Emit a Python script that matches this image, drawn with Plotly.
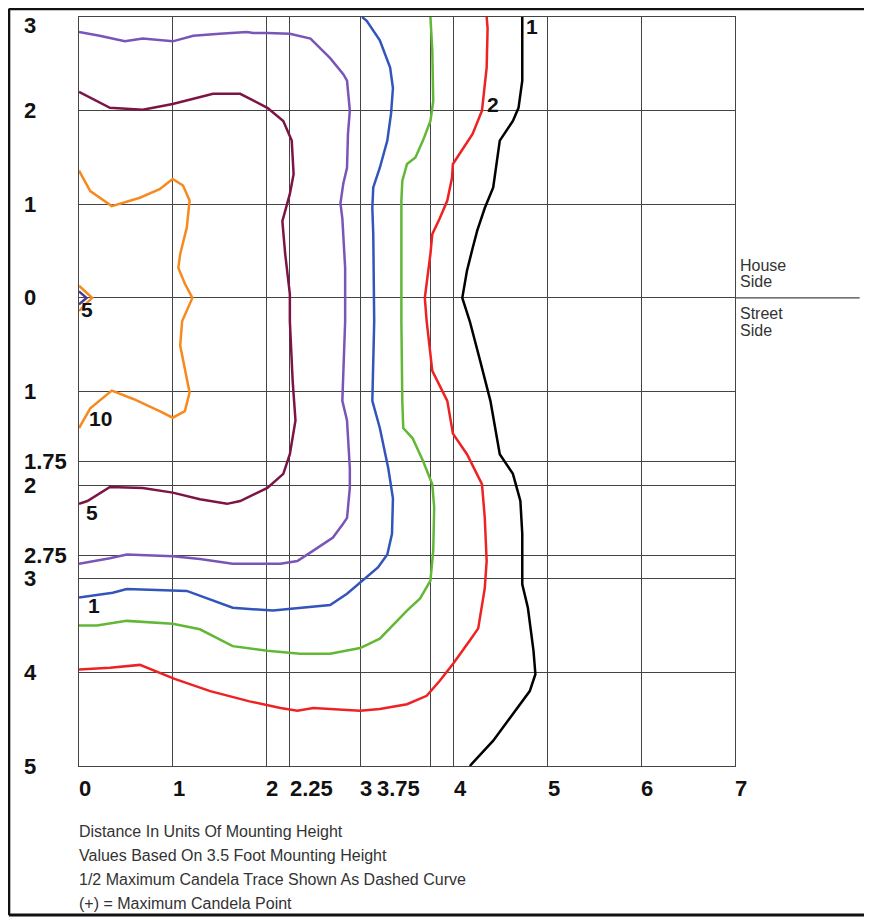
import plotly.graph_objects as go

# ---- data (units of mounting height; + = house side, - = street side) ----
black_x = [4.73, 4.73, 4.69, 4.63, 4.49, 4.47, 4.42, 4.33, 4.25, 4.20, 4.14, 4.09, 4.17, 4.28, 4.39, 4.49, 4.63, 4.71, 4.73, 4.73, 4.79, 4.85, 4.87, 4.81, 4.63, 4.42, 4.17]
black_y = [3.0, 2.32, 2.03, 1.89, 1.68, 1.54, 1.18, 0.96, 0.72, 0.53, 0.29, 0.0, -0.25, -0.67, -1.10, -1.67, -1.88, -2.17, -2.52, -3.06, -3.31, -3.77, -4.02, -4.20, -4.44, -4.73, -5.0]

red_x = [4.35, 4.36, 4.35, 4.31, 4.30, 4.20, 4.10, 3.99, 3.98, 3.93, 3.85, 3.77, 3.75, 3.71, 3.69, 3.71, 3.77, 3.93, 3.99, 4.14, 4.30, 4.33, 4.35, 4.33, 4.26, 4.17, 3.99, 3.85, 3.71, 3.50, 3.21, 3.00, 2.50, 2.33, 2.15, 1.82, 1.40, 1.02, 0.65, 0.33, 0.0]
red_y = [3.0, 2.88, 2.46, 2.10, 2.00, 1.75, 1.60, 1.43, 1.28, 1.04, 0.85, 0.68, 0.47, 0.15, 0.0, -0.25, -0.78, -1.10, -1.45, -1.67, -1.99, -2.35, -2.81, -3.10, -3.53, -3.66, -3.91, -4.09, -4.25, -4.34, -4.39, -4.41, -4.38, -4.41, -4.38, -4.31, -4.20, -4.07, -3.92, -3.95, -3.97]

green_x = [3.75, 3.77, 3.78, 3.75, 3.67, 3.59, 3.50, 3.45, 3.44, 3.44, 3.45, 3.46, 3.56, 3.67, 3.77, 3.79, 3.78, 3.75, 3.64, 3.50, 3.21, 3.00, 2.68, 2.36, 2.01, 1.64, 1.29, 1.00, 0.51, 0.19, 0.0]
green_y = [3.0, 2.64, 2.10, 1.89, 1.68, 1.50, 1.43, 1.25, 1.04, -0.25, -1.10, -1.39, -1.50, -1.74, -1.99, -2.24, -2.70, -3.02, -3.21, -3.34, -3.64, -3.74, -3.80, -3.80, -3.77, -3.72, -3.54, -3.48, -3.45, -3.50, -3.50]

blue_x = [3.02, 3.07, 3.21, 3.32, 3.35, 3.33, 3.29, 3.21, 3.14, 3.13, 3.14, 3.15, 3.13, 3.21, 3.30, 3.35, 3.34, 3.29, 3.19, 3.00, 2.86, 2.68, 2.36, 2.07, 1.64, 1.29, 1.15, 0.51, 0.36, 0.0]
blue_y = [3.0, 2.96, 2.75, 2.46, 2.24, 1.97, 1.68, 1.39, 1.18, 0.96, 0.68, -0.25, -1.10, -1.39, -1.82, -2.14, -2.52, -2.74, -2.88, -3.04, -3.16, -3.28, -3.31, -3.34, -3.31, -3.18, -3.13, -3.11, -3.15, -3.20]

purple_x = [0.0, 0.22, 0.49, 0.68, 1.00, 1.22, 1.50, 1.79, 1.86, 2.01, 2.25, 2.47, 2.68, 2.82, 2.86, 2.89, 2.87, 2.86, 2.82, 2.79, 2.81, 2.82, 2.84, 2.84, 2.81, 2.86, 2.89, 2.89, 2.86, 2.82, 2.71, 2.50, 2.33, 2.15, 2.01, 1.64, 1.29, 1.00, 0.51, 0.33, 0.0]
purple_y = [2.84, 2.80, 2.74, 2.77, 2.74, 2.80, 2.82, 2.84, 2.83, 2.83, 2.82, 2.77, 2.56, 2.39, 2.32, 2.00, 1.75, 1.39, 1.22, 1.01, 0.85, 0.68, 0.32, -0.25, -1.10, -1.31, -1.82, -2.03, -2.35, -2.41, -2.56, -2.70, -2.81, -2.84, -2.84, -2.84, -2.79, -2.76, -2.74, -2.78, -2.84]

maroon_x = [0.0, 0.33, 0.68, 1.00, 1.43, 1.72, 2.01, 2.18, 2.27, 2.29, 2.25, 2.20, 2.17, 2.20, 2.25, 2.25, 2.28, 2.31, 2.25, 2.18, 2.01, 1.72, 1.58, 1.29, 1.00, 0.68, 0.33, 0.09, 0.0]
maroon_y = [2.20, 2.03, 2.01, 2.07, 2.18, 2.18, 2.03, 1.89, 1.68, 1.32, 1.11, 0.93, 0.82, 0.47, 0.04, -0.25, -0.89, -1.31, -1.67, -1.88, -2.03, -2.17, -2.20, -2.15, -2.08, -2.03, -2.02, -2.17, -2.20]

orange_x = [0.0, 0.12, 0.35, 0.65, 0.86, 1.00, 1.11, 1.18, 1.15, 1.08, 1.06, 1.13, 1.21, 1.10, 1.08, 1.13, 1.15, 1.18, 1.13, 1.00, 0.86, 0.58, 0.35, 0.12, 0.0]
orange_y = [1.36, 1.14, 0.98, 1.07, 1.16, 1.27, 1.20, 1.04, 0.75, 0.47, 0.32, 0.15, 0.0, -0.25, -0.51, -0.78, -0.89, -1.01, -1.21, -1.28, -1.21, -1.08, -0.99, -1.18, -1.39]

orange_small_x = [0.0, 0.14, 0.0]
orange_small_y = [0.13, 0.0, -0.14]
navy_small_x = [0.0, 0.08, 0.0]
navy_small_y = [0.07, 0.0, -0.07]

curve_colors = ["#000000", "#ee2222", "#62b836", "#3355bb", "#7a55b8", "#7d1446", "#f68a1f", "#f68a1f", "#4a3a90"]
curves = [(black_x, black_y), (red_x, red_y), (green_x, green_y), (blue_x, blue_y),
          (purple_x, purple_y), (maroon_x, maroon_y), (orange_x, orange_y),
          (orange_small_x, orange_small_y), (navy_small_x, navy_small_y)]

# contour labels
label_text = ["1", "2", "2", "5", "10", "1", "5"]
label_x = [4.75, 4.33, -0.01, 0.055, 0.08, 0.07, 0.0]
label_y = [2.90, 2.07, 2.735, -2.29, -1.29, -3.29, -0.12]

x_ticks = [0, 1, 2, 2.25, 3, 3.75, 4, 5, 6, 7]
x_tick_text = ["0", "1", "2", "2.25", "3", "3.75", "4", "5", "6", "7"]
y_ticks = [3, 2, 1, 0, -1, -1.75, -2, -2.75, -3, -4, -5]
y_tick_text = ["3", "2", "1", "0", "1", "1.75", "2", "2.75", "3", "4", "5"]

notes = ["Distance In Units Of Mounting Height",
         "Values Based On 3.5 Foot Mounting Height",
         "1/2 Maximum Candela Trace Shown As Dashed Curve",
         "(+) = Maximum Candela Point"]
side_text = ["House", "Side", "Street", "Side"]

FONT = "Liberation Sans, Arial, sans-serif"

fig = go.Figure()
for (cx, cy), col in zip(curves, curve_colors):
    fig.add_trace(go.Scatter(x=cx, y=cy, mode="lines",
                             line=dict(color=col, width=2.5),
                             hoverinfo="skip", showlegend=False))

annotations = []
for t, lx, ly in zip(label_text, label_x, label_y):
    annotations.append(dict(x=lx, y=ly, xref="x", yref="y", text="<b>%s</b>" % t, showarrow=False,
                            xanchor="left", yanchor="middle",
                            font=dict(family=FONT, size=21, color="#111")))

for v, t in zip(x_ticks, x_tick_text):
    right = (t == "3.75")
    annotations.append(dict(x=v, y=-5, xref="x", yref="y", text="<b>%s</b>" % t,
                            showarrow=False, xanchor="right" if right else "left",
                            xshift=-8 if right else -2, yanchor="middle", yshift=-22,
                            font=dict(family=FONT, size=22, color="#111")))

for v, t in zip(y_ticks, y_tick_text):
    annotations.append(dict(x=-0.087, y=v, xref="paper", yref="y", text="<b>%s</b>" % t,
                            showarrow=False, xanchor="left", yanchor="middle",
                            yshift=-8 if v == 3 else 0,
                            font=dict(family=FONT, size=22, color="#111")))

for i, n in enumerate(notes):
    annotations.append(dict(x=-0.003, y=-5, xref="paper", yref="y", text=n,
                            showarrow=False, xanchor="left", yanchor="middle",
                            yshift=-65 - i * 24.3,
                            font=dict(family=FONT, size=16, color="#333")))

for t, sh in zip(side_text, [32, 16, -16, -33]):
    annotations.append(dict(x=1.005, y=0, xref="paper", yref="y", text=t,
                            showarrow=False, xanchor="left", yanchor="middle", yshift=sh,
                            font=dict(family=FONT, size=16, color="#333")))

shapes = [
    # house/street divider extends beyond the grid
    dict(type="line", xref="paper", yref="y", x0=1.0, x1=1.19, y0=0, y1=0,
         line=dict(color="#444", width=1.3)),
    # outer frame
    dict(type="line", xref="paper", yref="paper", x0=-0.107, x1=-0.107, y0=1.011, y1=-0.199,
         line=dict(color="#111", width=3)),
    dict(type="line", xref="paper", yref="paper", x0=-0.107, x1=1.25, y0=1.011, y1=1.011,
         line=dict(color="#111", width=3)),
    dict(type="line", xref="paper", yref="paper", x0=-0.107, x1=1.25, y0=-0.199, y1=-0.199,
         line=dict(color="#111", width=3)),
]

fig.update_layout(
    width=864, height=911,
    margin=dict(l=71, r=137, t=9, b=153),
    paper_bgcolor="white", plot_bgcolor="white",
    showlegend=False,
    annotations=annotations,
    shapes=shapes,
    xaxis=dict(range=[0, 7], tickvals=x_ticks, showticklabels=False, ticks="",
               showgrid=True, gridcolor="#444", gridwidth=1.2, zeroline=False,
               showline=True, mirror=True, linecolor="#444", linewidth=1.2, fixedrange=True),
    yaxis=dict(range=[-5, 3], tickvals=y_ticks, showticklabels=False, ticks="",
               showgrid=True, gridcolor="#444", gridwidth=1.2, zeroline=False,
               showline=True, mirror=True, linecolor="#444", linewidth=1.2, fixedrange=True),
)

fig.write_html("out.html")
